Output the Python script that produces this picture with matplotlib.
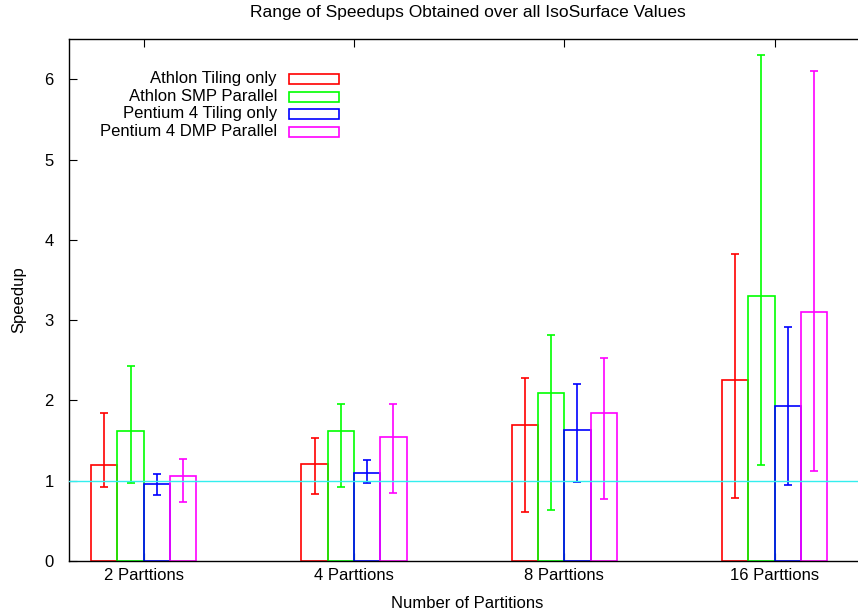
import matplotlib
matplotlib.use("Agg")
import matplotlib.pyplot as plt
from matplotlib.patches import Rectangle
import numpy as np

plt.rcParams['font.family'] = ['Liberation Sans', 'DejaVu Sans']

categories = ["2 Parttions", "4 Parttions", "8 Parttions", "16 Parttions"]
series_names = ["Athlon Tiling only", "Athlon SMP Parallel",
                "Pentium 4 Tiling only", "Pentium 4 DMP Parallel"]
colors = ["#ff0000", "#00ff00", "#0000ff", "#ff00ff"]

athlon_tiling = [1.19, 1.21, 1.70, 2.25]
athlon_tiling_low = [0.92, 0.84, 0.61, 0.78]
athlon_tiling_high = [1.84, 1.53, 2.28, 3.82]

athlon_smp = [1.62, 1.62, 2.09, 3.30]
athlon_smp_low = [0.97, 0.92, 0.64, 1.19]
athlon_smp_high = [2.43, 1.95, 2.81, 6.31]

p4_tiling = [0.96, 1.10, 1.63, 1.93]
p4_tiling_low = [0.82, 0.97, 0.99, 0.95]
p4_tiling_high = [1.08, 1.26, 2.20, 2.92]

p4_dmp = [1.06, 1.54, 1.85, 3.10]
p4_dmp_low = [0.74, 0.85, 0.77, 1.12]
p4_dmp_high = [1.27, 1.95, 2.53, 6.11]

means = [athlon_tiling, athlon_smp, p4_tiling, p4_dmp]
lows = [athlon_tiling_low, athlon_smp_low, p4_tiling_low, p4_dmp_low]
highs = [athlon_tiling_high, athlon_smp_high, p4_tiling_high, p4_dmp_high]

W, H = 858, 615
fig = plt.figure(figsize=(W / 100, H / 100), dpi=100)
ax_l, ax_r, ax_t, ax_b = 69, 865, 39.3, 561
ax = fig.add_axes([ax_l / W, 1 - ax_b / H, (ax_r - ax_l) / W, (ax_b - ax_t) / H])

x = np.arange(len(categories))
bw = 0.125
offsets = [-1.5, -0.5, 0.5, 1.5]
for m, lo, hi, c, off in zip(means, lows, highs, colors, offsets):
    m = np.array(m); lo = np.array(lo); hi = np.array(hi)
    xs = x + off * bw
    ax.bar(xs, m, width=bw, facecolor='none', edgecolor=c, linewidth=1.2, zorder=2)
    ax.errorbar(xs, m, yerr=[m - lo, hi - m], fmt='none', ecolor=c,
                elinewidth=1.2, capsize=3, capthick=1.2, zorder=3)

ax.axhline(1.0, color='#33eeee', linewidth=1.0, zorder=4)

ax.set_xlim(-0.355, 3.43)
ax.set_ylim(0, 6.5)
ax.set_xticks(x)
ax.set_xticklabels(categories, fontsize=12)
ax.set_yticks(range(0, 7))
ax.tick_params(axis='x', direction='in', length=6, top=True, bottom=True, pad=5, width=0.8)
ax.tick_params(axis='y', direction='in', length=6, left=True, right=False, pad=11, width=0.8, labelsize=12)
ax.spines['right'].set_visible(False)
for s in ['left', 'top', 'bottom']:
    ax.spines[s].set_linewidth(1.0)

fig.text(468 / W, 1 - 13 / H, "Range of Speedups Obtained over all IsoSurface Values",
         ha='center', va='center', fontsize=12.5)
fig.text(467 / W, 1 - 604 / H, "Number of Partitions", ha='center', va='center', fontsize=12)
fig.text(19 / W, 1 - 300 / H, "Speedup", ha='center', va='center', rotation=90, fontsize=12)

# legend
row_y = [79, 96.7, 114, 131.7]
for name, c, yy in zip(series_names, colors, row_y):
    fig.text(277 / W, 1 - yy / H, name, ha='right', va='center', fontsize=12)
    fig.patches.append(Rectangle((289 / W, 1 - (yy + 5) / H), 50 / W, 10 / H,
                                 transform=fig.transFigure, facecolor='none',
                                 edgecolor=c, linewidth=1.2))

fig.savefig("out.png", dpi=100)
